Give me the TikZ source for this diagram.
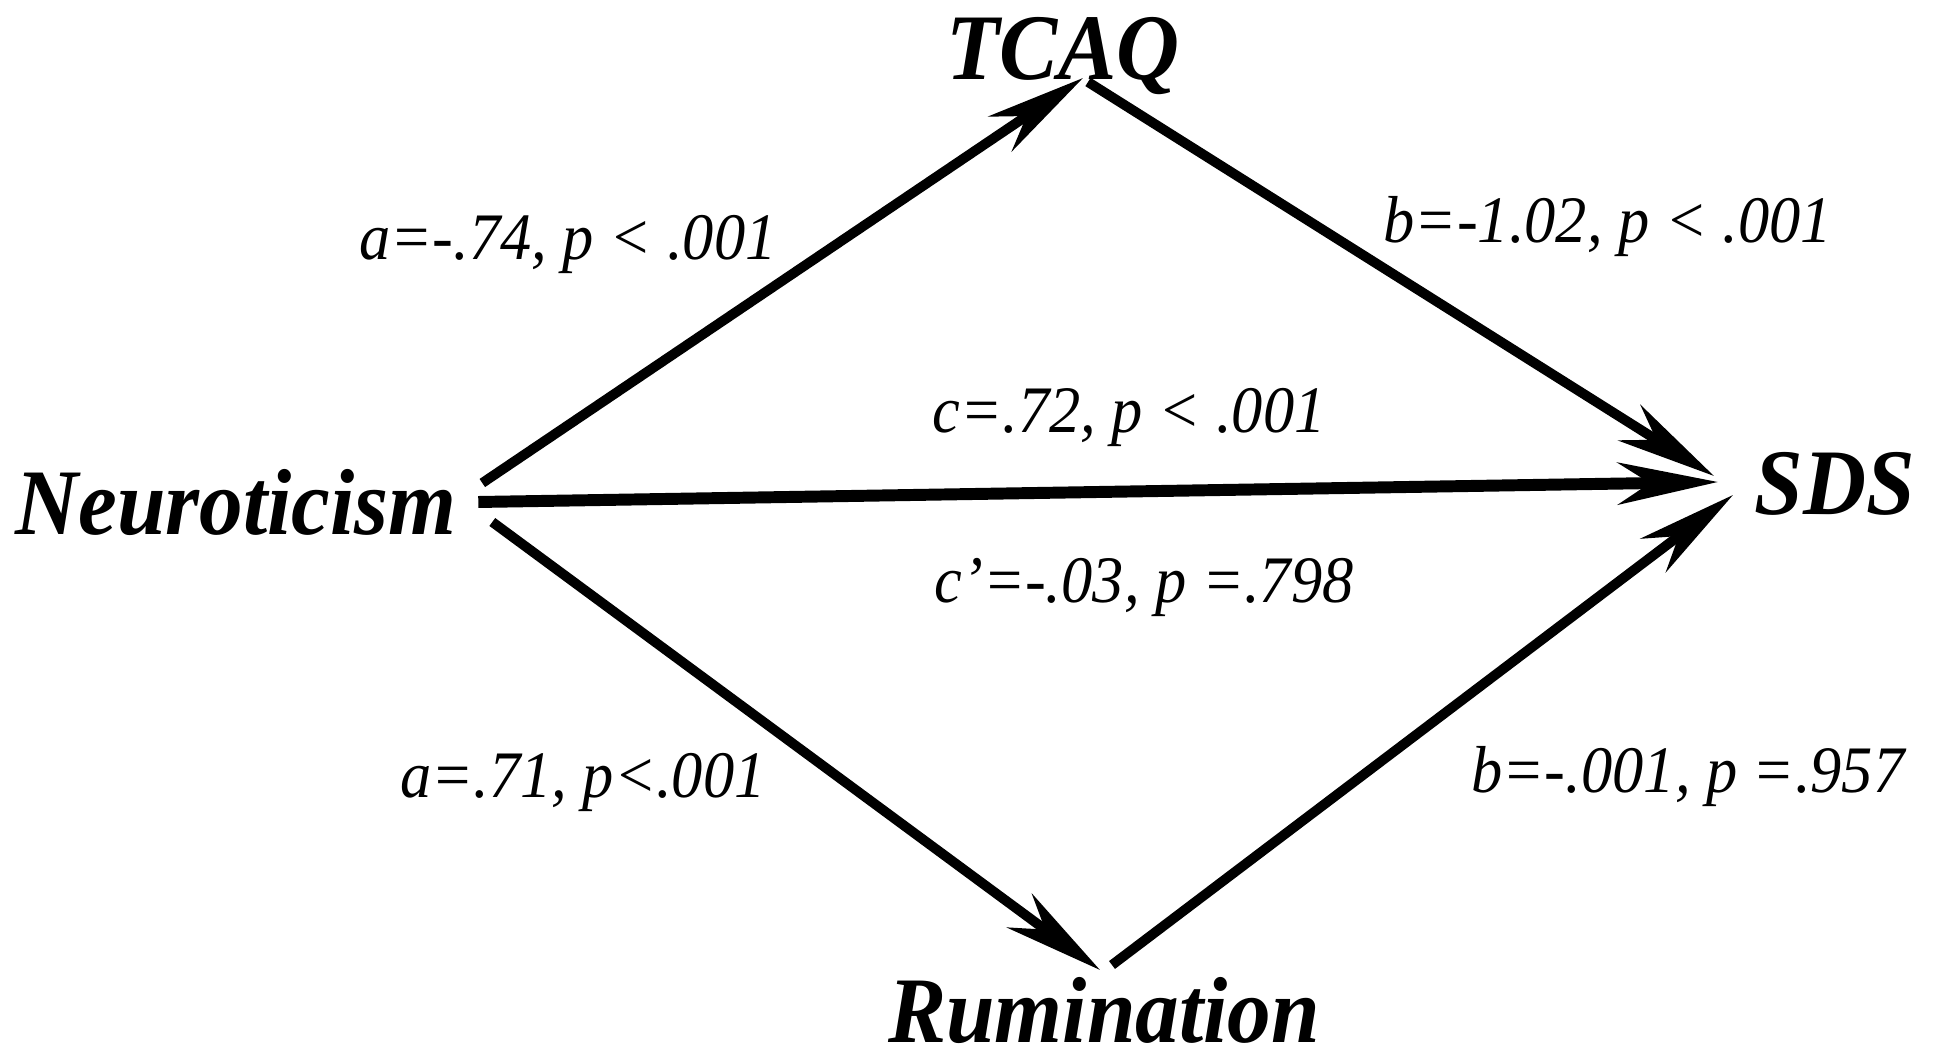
\documentclass[tikz,border=0pt]{standalone}
\usepackage{fontspec}
\setmainfont{Liberation Serif}
\newfontfamily\namefont{Liberation Serif}[FakeStretch=0.93]
\newfontfamily\coeffont{Liberation Serif}[FakeStretch=0.94]
\usepackage{tikz}
\usetikzlibrary{positioning}
\usetikzlibrary{arrows.meta}
\tikzset{
    varnode/.style = {inner sep=0pt, font=\namefont\bfseries\itshape\fontsize{26.7pt}{30pt}\selectfont},
    coefnode/.style = {inner sep=0pt, font=\coeffont\itshape\fontsize{18.9pt}{22pt}\selectfont},
    edgen/.style = {-{Stealth[length=1cm, width=0.42cm, inset=0.32cm]}, line width=2.8pt}, % paths
    edgeh/.style = {-{Stealth[length=1cm, width=0.42cm, inset=0.32cm]}, line width=3.4pt}  % direct
}
\begin{document}
\begin{tikzpicture}
\useasboundingbox (0,0) rectangle (19.36,10.59);
%
\node[varnode, anchor=base] at (2.36, 5.24) (neuro) {Neuroticism};
\node[varnode, anchor=base] at (10.63, 9.79) (tcaq) {TCAQ};
\node[varnode, anchor=base west] at (17.54, 5.44) (sds) {SDS};
\node[varnode, anchor=base] at (11.04, 0.16) (rum) {Rumination};
%
\node[coefnode, anchor=base] at (5.68, 7.99) (a1) {a=-.74, p < .001};
\node[coefnode, anchor=base] at (16.08, 8.16) (b1) {b=-1.02, p < .001};
\node[coefnode, anchor=base] at (11.29, 6.26) (c) {c=.72, p < .001};
\node[coefnode, anchor=base] at (11.44, 4.56) (cp) {c’=-.03, p =.798};
\node[coefnode, anchor=base] at (5.83, 2.61) (a2) {a=.71, p<.001};
\node[coefnode, anchor=base] at (16.88, 2.66) (b2) {b=-.001, p =.957};
%
\draw[edgen] ([xshift=0.25cm, yshift=0.52cm]neuro.base east) -- ([xshift=0.20cm, yshift=0.02cm]tcaq.base);
\draw[edgen] ([xshift=0.25cm, yshift=-0.02cm]tcaq.base) -- ([xshift=-0.40cm, yshift=0.39cm]sds.base west);
\draw[edgeh] ([xshift=0.21cm, yshift=0.33cm]neuro.base east) -- ([xshift=-0.36cm, yshift=0.33cm]sds.base west);
\draw[edgen] ([xshift=0.35cm, yshift=0.13cm]neuro.base east) -- ([xshift=-0.04cm, yshift=0.73cm]rum.base);
\draw[edgen] ([xshift=0.08cm, yshift=0.78cm]rum.base) -- ([xshift=-0.21cm, yshift=0.20cm]sds.base west);

\end{tikzpicture}
\end{document}
